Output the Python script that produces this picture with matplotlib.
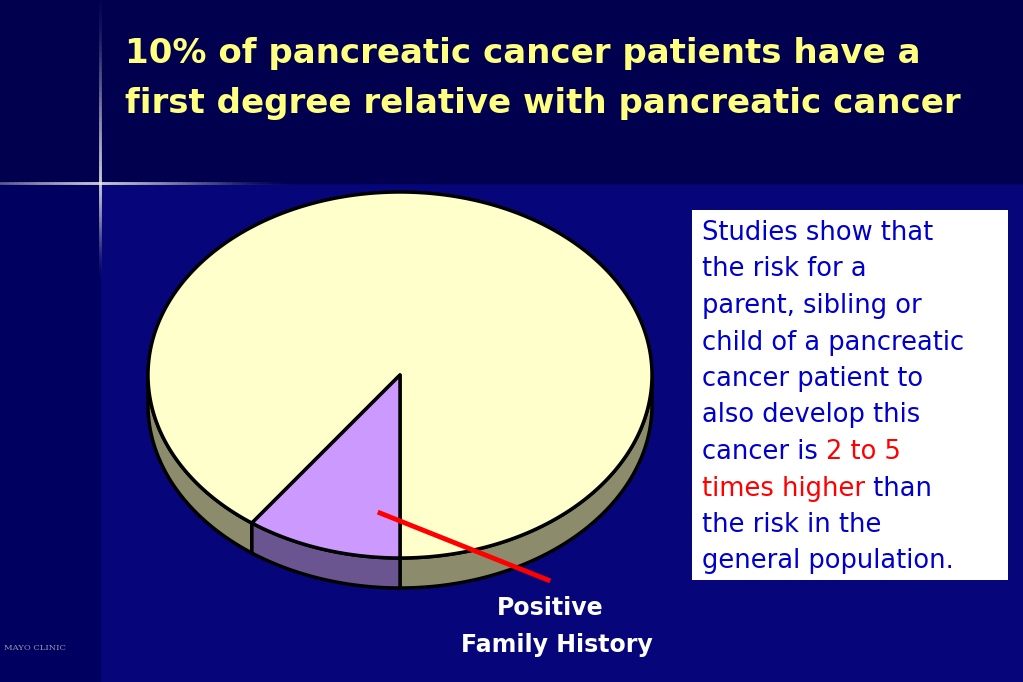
import numpy as np
import matplotlib
matplotlib.use("Agg")
import matplotlib.pyplot as plt
from matplotlib.patches import Polygon, Rectangle

labels = ["Other", "Positive Family History"]
values = [90, 10]
colors_top = ["#FFFFCC", "#CC99FF"]
colors_side = ["#8C8C6C", "#6B5590"]
title_lines = ["10% of pancreatic cancer patients have a",
               "first degree relative with pancreatic cancer"]
box_lines = [[("Studies show that", "#0000CC")],
             [("the risk for a", "#0000CC")],
             [("parent, sibling or", "#0000CC")],
             [("child of a pancreatic", "#0000CC")],
             [("cancer patient to", "#0000CC")],
             [("also develop this", "#0000CC")],
             [("cancer is ", "#0000CC"), ("2 to 5", "#FF0000")],
             [("times higher", "#FF0000"), (" than", "#0000CC")],
             [("the risk in the", "#0000CC")],
             [("general population.", "#0000CC")]]

fig = plt.figure(figsize=(10.23, 6.82), dpi=100)
ax = fig.add_axes([0, 0, 1, 1])
ax.set_xlim(0, 1023); ax.set_ylim(682, 0); ax.axis("off")

# background
ax.add_patch(Rectangle((0, 0), 1023, 682, color="#06067A", zorder=0))
ax.add_patch(Rectangle((0, 0), 1023, 183, color="#00004E", zorder=0))
ax.add_patch(Rectangle((0, 183), 100, 500, color="#000060", zorder=0))
for i in range(40):
    a = (1 - i / 40)
    ax.plot([100 - 5 * i - 5, 100 + 5 * i + 5], [183, 183], color="white", alpha=0.08 * a, lw=2, zorder=1)
    ax.plot([100, 100], [183 - 5 * i - 5, 183 + 2.5 * i + 3], color="white", alpha=0.08 * a, lw=2, zorder=1)

# pie
cx, cy, rx, ry, depth = 400, 375, 252, 183, 30
def pt(a, d=0):
    r = np.radians(a)
    return cx + rx * np.cos(r), cy - ry * np.sin(r) + d

fr = np.array(values) / sum(values)
start = 270.0
slices = []
ang = start
for f in fr[::-1]:
    slices.append((ang - f * 360, ang))
    ang -= f * 360
slices = slices[::-1]

for (a0, a1), cs in zip(slices, colors_side):
    for k in range(-1, 2):
        lo = max(a0, 180 + 360 * k); hi = min(a1, 360 + 360 * k)
        if hi > lo:
            t = np.linspace(lo, hi, 100)
            top = [pt(a) for a in t]
            bot = [pt(a, depth) for a in t[::-1]]
            ax.add_patch(Polygon(top + bot, closed=True, fc=cs, ec="black", lw=2.5, zorder=2))
for (a0, a1), ct in zip(slices, colors_top):
    t = np.linspace(a0, a1, 300)
    poly = [(cx, cy)] + [pt(a) for a in t]
    ax.add_patch(Polygon(poly, closed=True, fc=ct, ec="black", lw=2.5, zorder=3, joinstyle="round"))

ax.plot([380, 548], [513, 580], color="#FF0000", lw=3.5, zorder=4)
ax.text(550, 608, "Positive", color="white", fontsize=17, fontweight="bold", ha="center", va="center", zorder=5)
ax.text(557, 645, "Family History", color="white", fontsize=17, fontweight="bold", ha="center", va="center", zorder=5)

for i, line in enumerate(title_lines):
    ax.text(125, 54 + i * 49, line, color="#FFFF80", fontsize=24.5, fontweight="bold", ha="left", va="center")

ax.add_patch(Rectangle((692, 210), 316, 370, fc="white", ec="none", zorder=4))
fig.canvas.draw()
rend = fig.canvas.get_renderer()
for i, parts in enumerate(box_lines):
    x = 702
    y = 233 + i * 36.5
    for s, c in parts:
        t = ax.text(x, y, s, color=c, fontsize=18.5, ha="left", va="center", zorder=5)
        bb = t.get_window_extent(renderer=rend)
        x += bb.width

ax.text(4, 648, "MAYO CLINIC", color="#9999AA", fontsize=6, family="serif", va="center")

fig.savefig("out.png", dpi=100)
